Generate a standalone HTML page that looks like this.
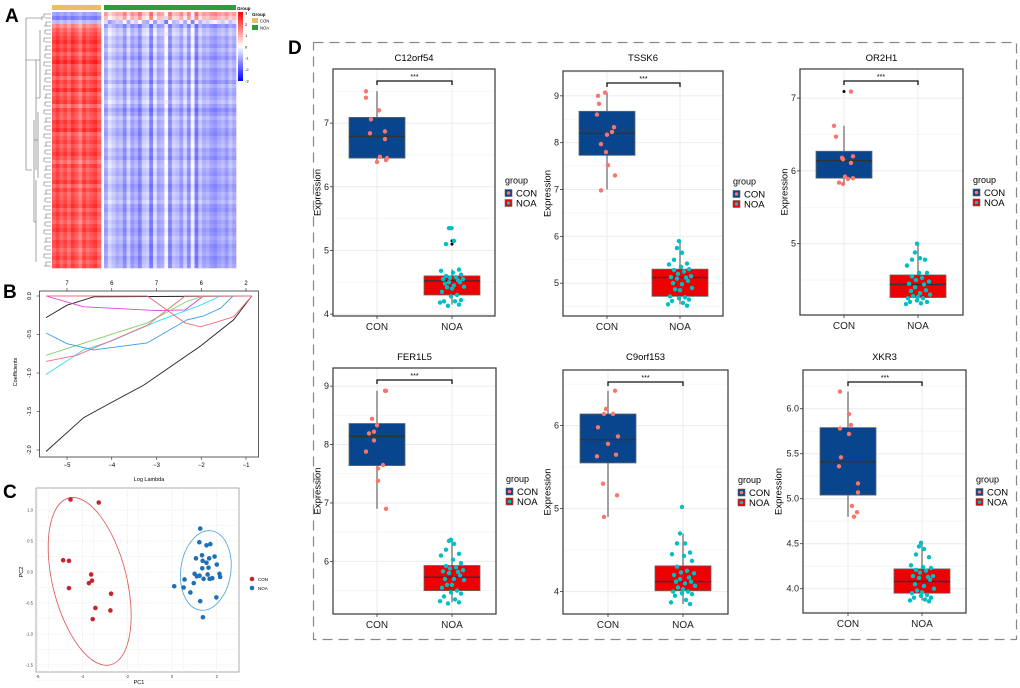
<!DOCTYPE html>
<html><head><meta charset="utf-8">
<style>
html,body{margin:0;padding:0;background:#fff;}
svg{display:block;font-family:"Liberation Sans",Arial,sans-serif;}
</style></head>
<body>
<svg id="fig" width="1020" height="688" viewBox="0 0 1020 688" xmlns="http://www.w3.org/2000/svg">
  <rect x="0" y="0" width="1020" height="688" fill="#fff"/>
  <text x="5" y="22" font-size="19" font-weight="bold">A</text>
  <text x="3" y="298" font-size="19" font-weight="bold">B</text>
  <text x="3" y="498" font-size="19" font-weight="bold">C</text>
  <text x="288" y="54" font-size="19" font-weight="bold">D</text>
  <rect x="313.5" y="42.5" width="703" height="597" fill="none" stroke="#888" stroke-width="1.2" stroke-dasharray="10,6"/>
  <g id="gA"></g>
  <g id="gB"></g>
  <g id="gC"></g>
  <g id="gD"></g>
</svg>
<script>
// ---------- Heatmap data ----------
var hmConCol=[0.3,0.6,0.2,0.5,0.1,0.6,0.3,-0.1,0.5,0.2,0.4,0.6,0.1];
var hmNoaCol=[-0.2,0.3,0.1,-0.1,0,-0.4,0.2,-0.3,-0.1,-0.5,0.1,0.2,-0.6,0.3,-0.2,-0.1,0.6,-0.5,0.1,0,-0.3,0.2,-0.4,0.5,-0.6,0.1,-0.2,-0.1,-0.3,-0.4,-0.2,-0.1,-0.3,0,-0.2];
var hmRowCon=[-0.9,-1.3,-0.6,1.0,1.4,1.6,1.8,2.0,1.7,1.9,1.5,1.8,2.1,1.6,1.7,1.9,1.4,1.8,1.6,2.0,1.5,1.7,1.9,1.3,1.8,1.6,1.5,1.9,1.7,2.0,1.4,1.6,1.8,1.5,1.7,1.9,1.6,1.3,1.8,1.5,1.7,1.6,1.9,1.4,1.8,1.5,1.6,1.7,1.9,1.5,1.8,1.6,1.4,1.7,1.9,1.6,1.5,1.8,1.7,1.4,1.6,1.8,1.5,1.7];
var hmRowNoa=[0.9,0.5,-0.7,-1.0,-0.6,-0.5,-0.8,-0.7,-0.9,-0.6,-0.8,-1.0,-0.7,-0.6,-0.9,-0.8,-0.7,-1.0,-0.6,-0.8,-0.9,-0.7,-0.5,-0.8,-1.1,-0.9,-0.6,-0.8,-0.7,-0.9,-1.0,-0.8,-0.7,-0.6,-0.9,-0.8,-1.0,-0.7,-0.6,-0.8,-0.9,-0.7,-0.8,-1.0,-0.9,-0.7,-0.8,-0.6,-0.9,-1.0,-0.8,-0.7,-0.9,-0.8,-1.0,-0.9,-0.7,-0.8,-1.0,-0.9,-0.8,-1.0,-0.9,-0.8];
var hmKeyTicks=["3","2","1","0","-1","-2","-3"];

// ---------- LASSO data ----------
var lassoTopTicks=["7","6","7","6","2"];
var lassoXTicks=[-5,-4,-3,-2,-1];
var lassoYTicks=[0,-0.5,-1,-1.5,-2];
var lassoColors=["#222222","#222222","#e040e0","#7ed36a","#33dded","#3a9ae8","#f06c82","#f06c82"];
var lassoLambda=[
 [-5.47,-4.63,-4.03,-3.29,-2.02,-1.28,-0.87],
 [-5.47,-5,-4.4,-0.87],
 [-5.47,-4.63,-2.99,-2.36,-1.95,-0.87],
 [-5.47,-3.21,-2.32,-1.95,-0.87],
 [-5.47,-4.63,-4.03,-2.99,-2.02,-1.57,-0.87],
 [-5.47,-5,-4.4,-3.21,-2.32,-1.95,-1.57,-1.29,-0.87],
 [-5.47,-4.78,-3.21,-2.36,-0.87],
 [-5.47,-3.21,-2.36,-2.02,-1.72,-1.28,-0.87]];
var lassoCoef=[
 [-2.02,-1.58,-1.39,-1.16,-0.65,-0.31,0],
 [-0.28,-0.12,-0.01,0],
 [0,-0.14,-0.19,-0.18,0,0],
 [-0.77,-0.35,-0.07,0,0],
 [-1.02,-0.7,-0.59,-0.33,-0.12,0,0],
 [-0.48,-0.62,-0.7,-0.61,-0.31,-0.26,-0.16,0,0],
 [-0.85,-0.77,-0.38,0,0],
 [0,0,-0.35,-0.4,-0.35,-0.27,0]];

// ---------- PCA data ----------
var pcaConX=[-4.53,-3.27,-4.86,-4.6,-3.61,-3.57,-3.71,-4.6,-2.72,-3.42,-2.75,-3.54];
var pcaConY=[1.17,1.12,0.19,0.18,-0.04,-0.14,-0.18,-0.26,-0.35,-0.58,-0.62,-0.76];
var pcaNoaX=[1.26,1.22,1.54,1.71,1.07,1.34,1.9,1.66,1.37,1.54,2.0,1.35,1.63,1.01,1.11,1.23,1.59,2.12,2.15,1.41,1.68,1.8,0.56,0.97,0.1,0.52,0.82,1.98,1.26,1.38];
var pcaNoaY=[0.7,0.48,0.43,0.45,0.22,0.27,0.25,0.22,0.18,0.15,0.12,0.06,0.07,-0.03,-0.07,-0.06,-0.04,-0.03,-0.08,-0.11,-0.11,-0.1,-0.12,-0.18,-0.23,-0.25,-0.33,-0.41,-0.47,-0.73];
var pcaXTicks=[-6,-4,-2,0,2];
var pcaYTicks=[1.0,0.5,0.0,-0.5,-1.0,-1.5];

// ---------- Boxplot data ----------
var genes=["C12orf54","TSSK6","OR2H1","FER1L5","C9orf153","XKR3"];
var conStats=[[6.4,6.45,6.79,7.09,7.5],[7.0,7.73,8.2,8.67,9.07],[5.83,5.9,6.14,6.27,6.62],[6.9,7.64,8.14,8.36,8.92],[4.9,5.55,5.83,6.14,6.42],[4.8,5.04,5.41,5.79,6.19]];
var noaStats=[[4.15,4.3,4.52,4.6,4.7],[4.55,4.72,5.12,5.3,5.9],[4.2,4.26,4.44,4.57,5.0],[5.3,5.5,5.73,5.93,6.37],[3.85,4.01,4.12,4.31,4.7],[3.87,3.95,4.08,4.22,4.5]];
var conOutliers=[[],[],[7.09],[],[],[]];
var noaOutliers=[[5.35,5.15,5.1],[],[],[],[],[]];
var conPts=[
 [7.5,7.4,7.2,7.06,6.84,6.87,6.75,6.47,6.45,6.39,6.42],
 [9.07,9.0,8.83,8.6,8.33,8.23,8.17,7.97,7.8,7.52,7.3,6.98],
 [7.09,6.62,6.47,6.2,6.18,6.16,6.11,5.92,5.9,5.89,5.84,5.82],
 [8.92,8.92,8.44,8.33,8.22,8.19,8.07,7.88,7.65,7.59,7.38,6.9],
 [6.42,6.2,6.14,6.14,5.98,5.87,5.78,5.65,5.63,5.3,5.16,4.9],
 [6.19,5.94,5.82,5.78,5.72,5.46,5.36,5.17,5.07,4.92,4.85,4.8]];
var conJitter=[
 [-11,-11,2,-6,-7,8,8,3,10,0,9],
 [-2,-9,-8,-10,7,5,0,-6,-1,1,8,-6],
 [7,-10,-8,9,-2,-1,7,1,9,4,-5,-1],
 [8,9,-5,0,-3,-8,-3,-11,6,1,1,9],
 [7,-2,-4,5,-10,10,0,8,-11,-5,9,-4],
 [-8,1,3,-8,1,-7,-9,10,10,4,9,6]];
var noaPts=[
 [5.35,5.35,5.15,5.1,4.7,4.68,4.65,4.62,4.6,4.58,4.57,4.55,4.55,4.53,4.5,4.5,4.48,4.45,4.43,4.42,4.4,4.35,4.3,4.28,4.22,4.2,4.2,4.18,4.15,4.13],
 [5.9,5.75,5.65,5.5,5.42,5.4,5.35,5.3,5.28,5.25,5.2,5.15,5.13,5.12,5.1,5.05,5.0,4.98,4.9,4.87,4.85,4.72,4.7,4.68,4.65,4.62,4.58,4.55,4.52],
 [5.0,4.88,4.8,4.78,4.78,4.7,4.6,4.6,4.55,4.53,4.5,4.48,4.45,4.44,4.4,4.36,4.35,4.32,4.3,4.28,4.27,4.25,4.25,4.22,4.2,4.2,4.18,4.17],
 [6.37,6.35,6.3,6.2,6.13,6.1,6.03,5.97,5.92,5.9,5.88,5.85,5.83,5.82,5.8,5.76,5.7,5.7,5.68,5.6,5.6,5.55,5.5,5.47,5.45,5.4,5.35,5.32,5.3,5.28],
 [5.02,4.7,4.58,4.58,4.47,4.45,4.43,4.37,4.3,4.25,4.23,4.22,4.2,4.17,4.15,4.12,4.12,4.1,4.07,4.05,4.03,4.0,4.0,3.98,3.97,3.95,3.9,3.87,3.85],
 [4.51,4.47,4.44,4.38,4.35,4.26,4.24,4.23,4.21,4.2,4.18,4.14,4.14,4.13,4.12,4.1,4.05,4.03,4.0,3.98,3.96,3.95,3.93,3.92,3.9,3.9,3.88,3.87,3.86]];
var noaJitter=[-1,-3,2,-6,7,-11,1,9,-6,4,-2,11,-9,6,-3,8,-7,2,12,-5,0,-10,5,-1,9,-8,3,-12,7,-4];
var yTicks=[[4,5,6,7],[5,6,7,8,9],[5,6,7],[6,7,8,9],[4,5,6],[4.0,4.5,5.0,5.5,6.0]];
var yTickText=[["4","5","6","7"],["5","6","7","8","9"],["5","6","7"],["6","7","8","9"],["4","5","6"],["4.0","4.5","5.0","5.5","6.0"]];

var NS="http://www.w3.org/2000/svg";
function mk(parent,tag,attrs,text){var e=document.createElementNS(NS,tag);for(var k in attrs)e.setAttribute(k,attrs[k]);if(text!==undefined)e.textContent=text;parent.appendChild(e);return e;}

// ================= Panel A =================
(function(){
 var g=document.getElementById('gA');
 var top=12,bot=268,nR=hmRowCon.length,rh=(bot-top)/nR;
 function col(v){v=Math.max(-3,Math.min(3,v));var t=Math.abs(v)/3;var c=Math.round(255*(1-t));return v>=0?'rgb(255,'+c+','+c+')':'rgb('+c+','+c+',255)';}
 var conL=52,conR=101,noaL=104,noaR=236;
 var cw1=(conR-conL)/hmConCol.length,cw2=(noaR-noaL)/hmNoaCol.length;
 for(var r=0;r<nR;r++){
  for(var c=0;c<hmConCol.length;c++){
   var v=hmRowCon[r]+hmConCol[c]*(hmRowCon[r]>0?1:-0.5);
   var e=mk(g,'rect',{x:conL+c*cw1,y:top+r*rh,width:cw1+0.3,height:rh+0.3,fill:col(v)});
   
   
  }
  for(var c2=0;c2<hmNoaCol.length;c2++){
   var v2=hmRowNoa[r]+hmNoaCol[c2]*(r<3?-1.5:1.2);
   var e2=mk(g,'rect',{x:noaL+c2*cw2,y:top+r*rh,width:cw2+0.3,height:rh+0.3,fill:col(v2)});
   
   
  }
 }
 var a1=mk(g,'rect',{x:conL,y:5,width:conR-conL,height:5,fill:'#e8bf66'});
 
 var a2=mk(g,'rect',{x:noaL,y:5,width:noaR-noaL,height:5,fill:'#2e9b3f'});
 
 mk(g,'text',{x:237,y:10,'font-size':4.5,'font-weight':'bold'},'Group');
 var d='';
 for(var i=0;i<nR;i++){var yy=top+(i+0.5)*rh;d+='M'+(44+(i%3))+' '+yy+'H51 ';}
 for(var j=0;j<nR;j+=2){var y1=top+(j+0.5)*rh,y2=top+(j+1.5)*rh;d+='M'+(44+(j%3))+' '+y1+'V'+y2+' ';}
 d+='M42 16V20 M42 18H26 M40 30V98 M36 60V170 M38 112V178 M36 180V262 M34 120V222 M32 170H26 M26 18V170 M40 98H36 M38 140H34 M36 222H34 M26 60H40';
 var den=mk(g,'path',{d:d,stroke:'#666',fill:'none','stroke-width':0.6});
 
 var defs=mk(g,'defs',{});var lg=mk(defs,'linearGradient',{id:'hk',x1:0,y1:0,x2:0,y2:1});
 mk(lg,'stop',{offset:'0',  'stop-color':'#ff0000'});mk(lg,'stop',{offset:'0.5','stop-color':'#ffffff'});mk(lg,'stop',{offset:'1','stop-color':'#0000ff'});
 var ck=mk(g,'rect',{x:238,y:12,width:5,height:69,fill:'url(#hk)'});
 
 for(var k=0;k<hmKeyTicks.length;k++) mk(g,'text',{x:245,y:14.5+k*11.3,'font-size':4},hmKeyTicks[k]);
 mk(g,'text',{x:252,y:16,'font-size':4.5,'font-weight':'bold'},'Group');
 var s1=mk(g,'rect',{x:252,y:18,width:6,height:5,fill:'#e8bf66'});
 var s2=mk(g,'rect',{x:252,y:25,width:6,height:5,fill:'#2e9b3f'});
 mk(g,'text',{x:260,y:22.5,'font-size':4.2},'CON');mk(g,'text',{x:260,y:29.5,'font-size':4.2},'NOA');
})();

// ================= Panel B =================
(function(){
 var g=document.getElementById('gB');
 function X(v){return 67+(v+5)*44.75;} function Y(v){return 296-v*77;}
 var fr=mk(g,'rect',{x:39.5,y:291,width:219,height:166,fill:'none',stroke:'#333','stroke-width':0.8});
 
 for(var i=0;i<lassoXTicks.length;i++){var xx=X(lassoXTicks[i]);
  mk(g,'line',{x1:xx,x2:xx,y1:457,y2:460,stroke:'#333','stroke-width':0.6});
  mk(g,'line',{x1:xx,x2:xx,y1:291,y2:288,stroke:'#333','stroke-width':0.6});
  mk(g,'text',{x:xx,y:467,'font-size':6,'text-anchor':'middle'},String(lassoXTicks[i]).replace('-','−'));
  mk(g,'text',{x:xx,y:285,'font-size':6,'text-anchor':'middle'},lassoTopTicks[i]);}
 for(var j=0;j<lassoYTicks.length;j++){var yy=Y(lassoYTicks[j]);
  mk(g,'line',{x1:39.5,x2:36.5,y1:yy,y2:yy,stroke:'#333','stroke-width':0.6});
  mk(g,'text',{x:31,y:yy,'font-size':5.5,'text-anchor':'middle',transform:'rotate(-90 31 '+yy+')'},lassoYTicks[j].toFixed(1));}
 mk(g,'text',{x:149,y:481,'font-size':5.5,'text-anchor':'middle'},'Log Lambda');
 mk(g,'text',{x:17,y:372,'font-size':5.5,'text-anchor':'middle',transform:'rotate(-90 17 372)'},'Coefficients');
 for(var s=0;s<lassoLambda.length;s++){var p='';
  for(var q=0;q<lassoLambda[s].length;q++)p+=(q?'L':'M')+X(lassoLambda[s][q]).toFixed(1)+' '+Y(lassoCoef[s][q]).toFixed(1);
  var ln=mk(g,'path',{d:p,stroke:lassoColors[s],fill:'none','stroke-width':0.9});
  }
})();

// ================= Panel C =================
(function(){
 var g=document.getElementById('gC');
 function X(v){return 172+v*22.4;} function Y(v){return 572-v*62;}
 var bg=mk(g,'rect',{x:36,y:488,width:203,height:184,fill:'#fff',stroke:'#999','stroke-width':0.8});
 
 for(var i=0;i<pcaXTicks.length;i++){var xx=X(pcaXTicks[i]);
  mk(g,'line',{x1:xx,x2:xx,y1:488,y2:672,stroke:'#e6e6e6','stroke-width':0.6,'stroke-dasharray':'2,1'});
  if(i<pcaXTicks.length-1)mk(g,'line',{x1:xx+11.2,x2:xx+11.2,y1:488,y2:672,stroke:'#f0f0f0','stroke-width':0.5});
  mk(g,'text',{x:xx,y:678,'font-size':4.2,'text-anchor':'middle',fill:'#444'},String(pcaXTicks[i]));}
 for(var j=0;j<pcaYTicks.length;j++){var yy=Y(pcaYTicks[j]);
  mk(g,'line',{x1:36,x2:239,y1:yy,y2:yy,stroke:'#e6e6e6','stroke-width':0.6,'stroke-dasharray':'2,1'});
  mk(g,'line',{x1:36,x2:239,y1:yy+15.5,y2:yy+15.5,stroke:'#f0f0f0','stroke-width':0.5});
  mk(g,'text',{x:33,y:yy+1.5,'font-size':4.2,'text-anchor':'end',fill:'#444'},pcaYTicks[j].toFixed(1));}
 mk(g,'text',{x:139,y:684,'font-size':5.5,'text-anchor':'middle'},'PC1');
 mk(g,'text',{x:23,y:572,'font-size':5.5,'text-anchor':'middle',transform:'rotate(-90 23 572)'},'PC2');
 function mean(a){var s=0;for(var i=0;i<a.length;i++)s+=a[i];return s/a.length;}
 var cx1=X(mean(pcaConX))+2,cy1=Y(mean(pcaConY))+8;
 var e1=mk(g,'ellipse',{cx:cx1,cy:cy1,rx:37,ry:86,fill:'none',stroke:'#d9534f','stroke-width':0.8,transform:'rotate(-14 '+cx1+' '+cy1+')'});
 
 var cx2=X(mean(pcaNoaX))+3,cy2=Y(mean(pcaNoaY))-1;
 var e2=mk(g,'ellipse',{cx:cx2,cy:cy2,rx:25,ry:40,fill:'none',stroke:'#4aa3d6','stroke-width':0.8,transform:'rotate(8 '+cx2+' '+cy2+')'});
 
 for(var a=0;a<pcaConX.length;a++){var p=mk(g,'circle',{cx:X(pcaConX[a]),cy:Y(pcaConY[a]),r:2.3,fill:'#c1272d'});
  }
 for(var b=0;b<pcaNoaX.length;b++){var p2=mk(g,'circle',{cx:X(pcaNoaX[b]),cy:Y(pcaNoaY[b]),r:2.3,fill:'#1f6fb5'});
  }
 var l1=mk(g,'circle',{cx:252,cy:579,r:2.3,fill:'#c1272d'});
 var l2=mk(g,'circle',{cx:252,cy:588,r:2.3,fill:'#1f6fb5'});
 mk(g,'text',{x:258,y:581,'font-size':4.5},'CON');mk(g,'text',{x:258,y:590,'font-size':4.5},'NOA');
})();

// ================= Panel D =================
var layout=[
 {L:333,R:495,T:69,B:316,vTop:7.85,vBot:3.97,cx:377,nx:452,ty:61},
 {L:563,R:723,T:71,B:316,vTop:9.53,vBot:4.3,cx:607,nx:680,ty:61},
 {L:800,R:963,T:69,B:315,vTop:7.4,vBot:4.02,cx:844,nx:918,ty:61},
 {L:333,R:496,T:368,B:614,vTop:9.31,vBot:5.1,cx:377,nx:452,ty:360},
 {L:563,R:728,T:370,B:614,vTop:6.67,vBot:3.73,cx:608,nx:683,ty:360},
 {L:803,R:966,T:370,B:613,vTop:6.43,vBot:3.73,cx:848,nx:922,ty:360}];
(function(){
 var g=document.getElementById('gD');
 for(var p=0;p<genes.length;p++){
  var Lo=layout[p];
  var pg=mk(g,'g',{});
  
  
  var Y=(function(Lo){return function(v){return Lo.B-(v-Lo.vBot)/(Lo.vTop-Lo.vBot)*(Lo.B-Lo.T);};})(Lo);
  var ticks=yTicks[p],step=ticks[1]-ticks[0];
  for(var t=0;t<ticks.length;t++){
   var yy=Y(ticks[t]);
   mk(pg,'line',{x1:Lo.L,x2:Lo.R,y1:yy,y2:yy,stroke:'#ebebeb','stroke-width':1});
   var ym=Y(ticks[t]+step/2);if(ym>Lo.T)mk(pg,'line',{x1:Lo.L,x2:Lo.R,y1:ym,y2:ym,stroke:'#f4f4f4','stroke-width':0.8});
   var ym2=Y(ticks[t]-step/2);if(t==0&&ym2<Lo.B)mk(pg,'line',{x1:Lo.L,x2:Lo.R,y1:ym2,y2:ym2,stroke:'#f4f4f4','stroke-width':0.8});
   mk(pg,'line',{x1:Lo.L-3,x2:Lo.L,y1:yy,y2:yy,stroke:'#333','stroke-width':0.8});
   var tl=mk(pg,'text',{x:Lo.L-4,y:yy+3,'font-size':9,'text-anchor':'end',fill:'#222'},yTickText[p][t]);
   
  }
  mk(pg,'line',{x1:Lo.cx,x2:Lo.cx,y1:Lo.T,y2:Lo.B,stroke:'#ebebeb','stroke-width':1});
  mk(pg,'line',{x1:Lo.nx,x2:Lo.nx,y1:Lo.T,y2:Lo.B,stroke:'#ebebeb','stroke-width':1});
  var groups=[{x:Lo.cx,st:conStats[p],fill:'#08458c',pts:conPts[p],jit:conJitter[p],pc:'#f8766d',out:conOutliers[p],nm:'con'},
              {x:Lo.nx,st:noaStats[p],fill:'#ee0000',pts:noaPts[p],jit:noaJitter,pc:'#00bfc4',out:noaOutliers[p],nm:'noa'}];
  for(var gi=0;gi<2;gi++){
   var G=groups[gi],st=G.st,hw=28;
   var wk=mk(pg,'line',{x1:G.x,x2:G.x,y1:Y(st[0]),y2:Y(st[4]),stroke:'#8a8a8a','stroke-width':1.6});
   
   var bx=mk(pg,'rect',{x:G.x-hw,y:Y(st[3]),width:2*hw,height:Y(st[1])-Y(st[3]),fill:G.fill,stroke:'#666','stroke-width':0.8});
   
   var md=mk(pg,'line',{x1:G.x-hw,x2:G.x+hw,y1:Y(st[2]),y2:Y(st[2]),stroke:'#333','stroke-width':1.4});
   
   for(var o=0;o<G.out.length;o++){var oc=mk(pg,'circle',{cx:G.x,cy:Y(G.out[o]),r:1.5,fill:'#000'});
    }
   for(var k=0;k<G.pts.length;k++){
    var c=mk(pg,'circle',{cx:G.x+G.jit[k%G.jit.length],cy:Y(G.pts[k]),r:2.2,fill:G.pc});
    
   }
  }
  var fr=mk(pg,'rect',{x:Lo.L,y:Lo.T,width:Lo.R-Lo.L,height:Lo.B-Lo.T,fill:'none',stroke:'#444','stroke-width':1.3});
  
  mk(pg,'line',{x1:Lo.cx,x2:Lo.cx,y1:Lo.B,y2:Lo.B+3,stroke:'#333','stroke-width':0.8});
  mk(pg,'line',{x1:Lo.nx,x2:Lo.nx,y1:Lo.B,y2:Lo.B+3,stroke:'#333','stroke-width':0.8});
  mk(pg,'text',{x:Lo.cx,y:Lo.B+14,'font-size':10,'text-anchor':'middle',fill:'#222'},'CON');
  mk(pg,'text',{x:Lo.nx,y:Lo.B+14,'font-size':10,'text-anchor':'middle',fill:'#222'},'NOA');
  var maxLen=0;for(var z=0;z<yTickText[p].length;z++)maxLen=Math.max(maxLen,yTickText[p][z].length);
  var ylx=Lo.L-8-4.5*maxLen,yly=(Lo.T+Lo.B)/2;
  mk(pg,'text',{x:ylx,y:yly,'font-size':9.5,'text-anchor':'middle',transform:'rotate(-90 '+ylx+' '+yly+')'},'Expression');
  var tt=mk(pg,'text',{x:(Lo.L+Lo.R)/2,y:Lo.ty,'font-size':9.5,'text-anchor':'middle'},genes[p]);
  
  var by=Lo.T+12;
  var br=mk(pg,'path',{d:'M'+Lo.cx+' '+(by+4)+'V'+by+'H'+Lo.nx+'V'+(by+4),stroke:'#111',fill:'none','stroke-width':1.3});
  
  mk(pg,'text',{x:(Lo.cx+Lo.nx)/2,y:by-2,'font-size':7,'text-anchor':'middle'},'***');
  var lx=Lo.R+10,ly=(Lo.T+Lo.B)/2-9;
  var lg=mk(pg,'g',{});
  
  mk(lg,'text',{x:lx,y:ly,'font-size':9},'group');
  var cols=[['#08458c','#f8766d','CON'],['#ee0000','#00bfc4','NOA']];
  for(var q=0;q<2;q++){var yy2=ly+6+q*10;
   mk(lg,'rect',{x:lx,y:yy2,width:7,height:7,fill:cols[q][0],stroke:'#666','stroke-width':0.6});
   mk(lg,'circle',{cx:lx+3.5,cy:yy2+3.5,r:1.8,fill:cols[q][1]});
   mk(lg,'text',{x:lx+11,y:yy2+7,'font-size':9.5},cols[q][2]);}
 }
})();
</script>
</body></html>
